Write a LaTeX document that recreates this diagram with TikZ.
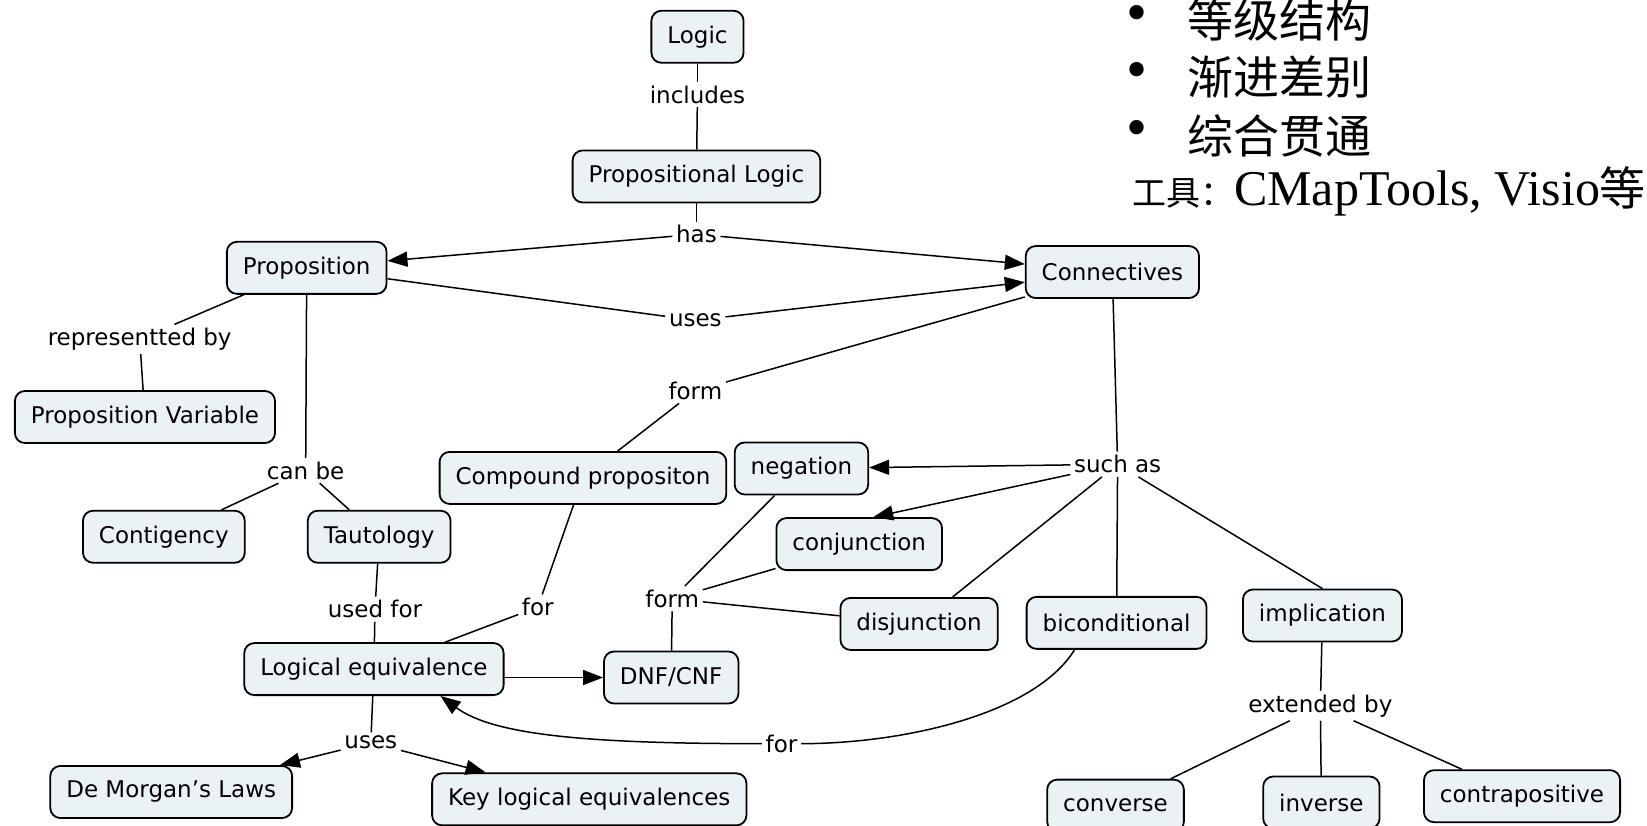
\documentclass[tikz,border=0pt]{standalone}
\usepackage{fontspec}
\usepackage{xcolor}
\usepackage{tikz}
\usetikzlibrary{
  arrows.meta,
  calc
}
\newfontfamily\mapfont{DejaVu Sans}
\newfontfamily\cjk{Noto Sans CJK SC}
\newfontfamily\timesfont{Liberation Serif}
\definecolor{conceptfill}{HTML}{EBF2F6}
\tikzset{
  concept/.style={
    draw,
    rounded corners=5pt,
    fill=conceptfill,
    line width=0.9pt,
    minimum height=26pt,
    inner xsep=8pt,
    font=\mapfont\fontsize{11.5}{13}\selectfont},
  link/.style={
    inner sep=1.5pt,
    font=\mapfont\fontsize{11.5}{13}\selectfont},
  itemdot/.style={
    inner sep=0pt,
    font=\timesfont\fontsize{30}{32}\selectfont},
  itemtext/.style={
    anchor=west,
    inner sep=0pt,
    font=\cjk\fontsize{23}{25}\selectfont},
  map/.style={
    line width=0.75pt,
    >={Triangle[length=10pt,width=7.5pt]}}
  }

\begin{document}
\begin{tikzpicture}[x=0.525pt, y=-0.525pt, map]
		\useasboundingbox (0,0) rectangle (1568,786);
		\fill[white] (0,0) rectangle (1568,786);
		% notes, top right
		\node[itemdot] (d1) at (1082,18) {•};
		\node[itemdot] (d2) at (1082,72) {•};
		\node[itemdot] (d3) at (1082,128) {•};
		\node[itemtext] (t1) at (1130,19) {等级结构};
		\node[itemtext] (t2) at (1130,73) {渐进差别};
		\node[itemtext] (t3) at (1130,129) {综合贯通};
		\node[anchor=west, inner sep=0pt] (tools) at (1077,182)
			{{\cjk\fontsize{17}{20}\selectfont 工具：}{\timesfont\fontsize{25}{27}\selectfont CMapTools, Visio}{\cjk\fontsize{23}{25}\selectfont 等}};
		% concepts and linking phrases
		\node[concept] (logic) at (664,35) {Logic};
		\node[link] (incl) at (664,90) {includes};
		\node[concept] (pl) at (663,168) {Propositional Logic};
		\node[link] (has) at (663,223) {has};
		\node[concept] (prop) at (292,255) {Proposition};
		\node[concept] (conn) at (1059,259) {Connectives};
		\node[link] (uses) at (662,305) {uses};
		\node[link] (repr) at (133,323) {representted by};
		\node[concept] (pvar) at (138,397) {Proposition Variable};
		\node[link] (form) at (662,372) {form};
		\node[link] (canbe) at (291,448) {can be};
		\node[concept] (comp) at (555,455) {Compound propositon};
		\node[concept] (neg) at (763,446) {negation};
		\node[link] (such) at (1064,442) {such as};
		\node[concept] (contig) at (156,511) {Contigency};
		\node[concept] (taut) at (361,511) {Tautology};
		\node[concept] (conj) at (818,518) {conjunction};
		\node[link] (usedfor) at (357,580) {used for};
		\node[link] (for) at (512,578) {for};
		\node[link] (form2) at (640,570) {form};
		\node[concept] (disj) at (875,594) {disjunction};
		\node[concept] (bicond) at (1063,593) {biconditional};
		\node[concept] (impl) at (1259,586) {implication};
		\node[concept] (le) at (356,637) {Logical equivalence};
		\node[concept] (dnf) at (639,645) {DNF/CNF};
		\node[link] (ext) at (1257,672) {extended by};
		\node[link] (uses2) at (353,707) {uses};
		\node[link] (for2) at (744,708) {for};
		\node[concept] (dml) at (163,754) {De Morgan’s Laws};
		\node[concept] (key) at (561,761) {Key logical equivalences};
		\node[concept] (conv) at (1062,767) {converse};
		\node[concept] (inv) at (1258,764) {inverse};
		\node[concept] (contra) at (1449,758) {contrapositive};
		% links
		\draw (logic) -- (incl);
		\draw (incl) -- (pl);
		\draw (pl) -- (has);
		\draw [->] (has) -- (prop);
		\draw [->] (has) -- (conn);
		\draw (prop) -- (uses);
		\draw [->] (uses) -- (conn);
		\draw (conn) -- (form);
		\draw (form) -- (comp);
		\draw (prop) -- (repr);
		\draw (repr) -- (pvar);
		\draw (prop) -- (canbe);
		\draw (canbe) -- (contig);
		\draw (canbe) -- (taut);
		\draw (taut) -- (usedfor);
		\draw (usedfor) -- (le);
		\draw (comp) -- (for);
		\draw (for) -- (le);
		\draw [->] (le.east |- dnf) -- (dnf);
		\draw (neg) -- (form2);
		\draw (conj) -- (form2);
		\draw (disj) -- (form2);
		\draw (form2) -- (dnf);
		\draw (conn) -- (such);
		\draw [->] (such) -- (neg);
		\draw [->] (such) -- ([xshift=7pt]conj.north);
		\draw (such) -- (disj);
		\draw (such) -- (bicond);
		\draw (such) -- (impl.north);
		\draw ([xshift=-21pt]bicond.south) .. controls (985,680) and (860,708) .. (for2);
		\draw [->] (for2) .. controls (560,708) and (470,700) .. ([xshift=-32pt]le.south east);
		\draw (le) -- (uses2);
		\draw [->] (uses2) -- (dml);
		\draw [->] (uses2) -- (key);
		\draw (impl) -- (ext);
		\draw (ext) -- (conv);
		\draw (ext) -- (inv);
		\draw (ext) -- (contra);
	\end{tikzpicture}
\end{document}
